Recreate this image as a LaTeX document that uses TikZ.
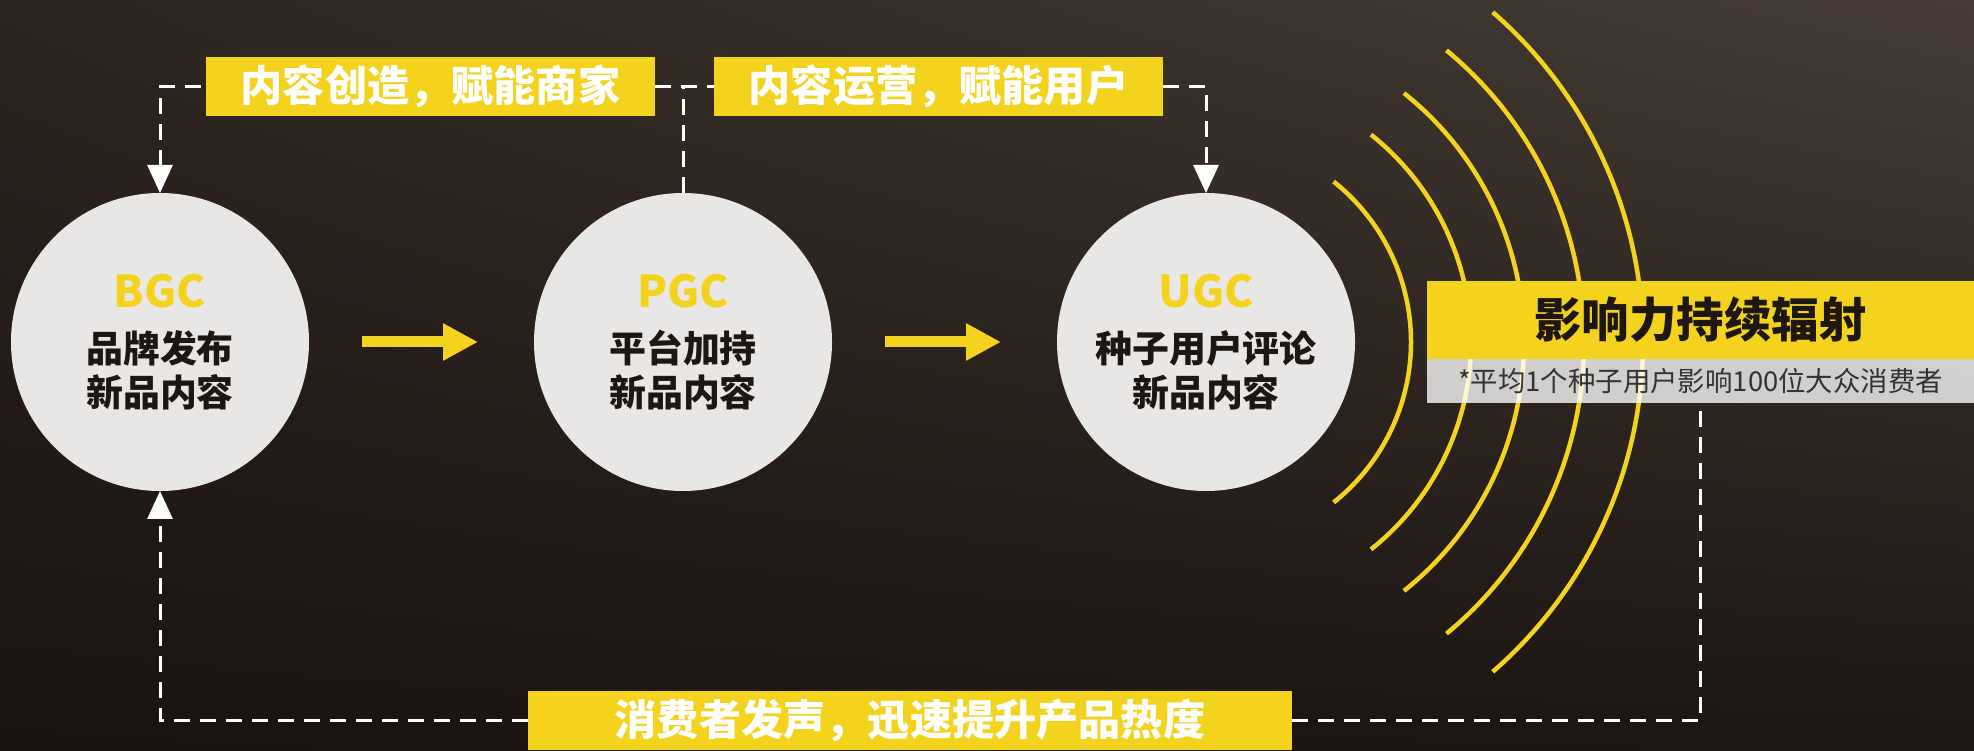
\documentclass[tikz,border=0pt]{standalone}
\usepackage{fontspec}
\setmainfont{Noto Sans CJK SC}
\usetikzlibrary{arrows.meta,positioning,shadings}
\definecolor{hl}{HTML}{F4D31F}
\definecolor{disc}{HTML}{E8E7E6}
\definecolor{ink}{HTML}{1E1612}
\definecolor{notegray}{HTML}{333333}
\definecolor{bgA}{HTML}{2D2420}
\definecolor{bgB}{HTML}{463C35}
\definecolor{bgC}{HTML}{1A120F}
\definecolor{bgD}{HTML}{1C1512}
\newcommand{\tagfont}{\color{hl}\fontsize{25}{30}\selectfont}

\begin{document}
\begin{tikzpicture}[
            x=0.2mm, y=0.2mm,
            stage/.style={circle, fill=disc, minimum size=59.6mm, inner sep=0pt, outer sep=0pt,
                align=center, text=ink, font=\bfseries\fontsize{21}{25}\selectfont},
            tagbox/.style={fill=hl, inner sep=0pt, outer sep=0pt, minimum height=11.8mm,
                text=white, font=\bfseries\fontsize{24}{28}\selectfont},
            loopline/.style={draw=white, line width=0.6mm, dash pattern=on 3.2mm off 2mm},
            flow/.style={draw=hl, line width=2.2mm, shorten <=10.6mm, shorten >=11.2mm,
                -{Triangle[width=7mm,length=7mm]}},
            ring/.style={draw=hl, line width=0.9mm}
            ]
            \useasboundingbox (0,0) rectangle (1974,750);
            \shade[upper left=bgA, upper right=bgB, lower left=bgC, lower right=bgD] (0,0) rectangle (1974,750);

            % the three stages
            \node[stage] (bgc) at (160,408) {\tagfont BGC\\[6pt]品牌发布\\新品内容};
            \node[stage] (pgc) at (683,408) {\tagfont PGC\\[6pt]平台加持\\新品内容};
            \node[stage] (ugc) at (1206,408) {\tagfont UGC\\[6pt]种子用户评论\\新品内容};

            \draw[flow] (bgc) -- (pgc);
            \draw[flow] (pgc) -- (ugc);

            % radiating rings
            \foreach \r/\a in {41/51.5,53/51.5,63.6/51.5,75.6/50.5,87.4/49}
                \draw[ring] (ugc.center) ++(-\a:\r mm) arc[start angle=-\a, end angle=\a, radius=\r mm];

            \node[fill=hl, inner sep=0pt, outer sep=0pt, minimum width=109.4mm, minimum height=15.6mm,
                text=ink, font=\bfseries\fontsize{27}{32}\selectfont] (impact) at (1700.5,430) {影响力持续辐射};
            \node[fill=white, fill opacity=0.78, text opacity=1, inner sep=0pt, outer sep=0pt,
                minimum width=109.4mm, minimum height=8.8mm, text=notegray,
                font=\fontsize{15.6}{18}\selectfont, below=0pt of impact] (note) {*平均1个种子用户影响100位大众消费者};

            % feedback labels
            \node[tagbox, minimum width=89.8mm] (create) at (430.5,663.5) {内容创造，赋能商家};
            \node[tagbox, minimum width=89.8mm] (operate) at (938.5,663.5) {内容运营，赋能用户};
            \node[tagbox, minimum width=152.8mm] (voice) at (910,29.5) {消费者发声，迅速提升产品热度};

            \draw[loopline, {Triangle[width=5mm,length=5.6mm]}-] (bgc.north) |- (create.west);
            \draw[loopline] (create.east) -- (operate.west);
            \draw[loopline] (pgc.north) -- (pgc.north |- create.east);
            \draw[loopline, -{Triangle[width=5mm,length=5.6mm]}] (operate.east) -| (ugc.north);
            \draw[loopline, -{Triangle[width=5mm,length=5.6mm]}] (voice.west) -| (bgc.south);
            \draw[loopline] (voice.east) -| (note.south);
        \end{tikzpicture}
\end{document}
